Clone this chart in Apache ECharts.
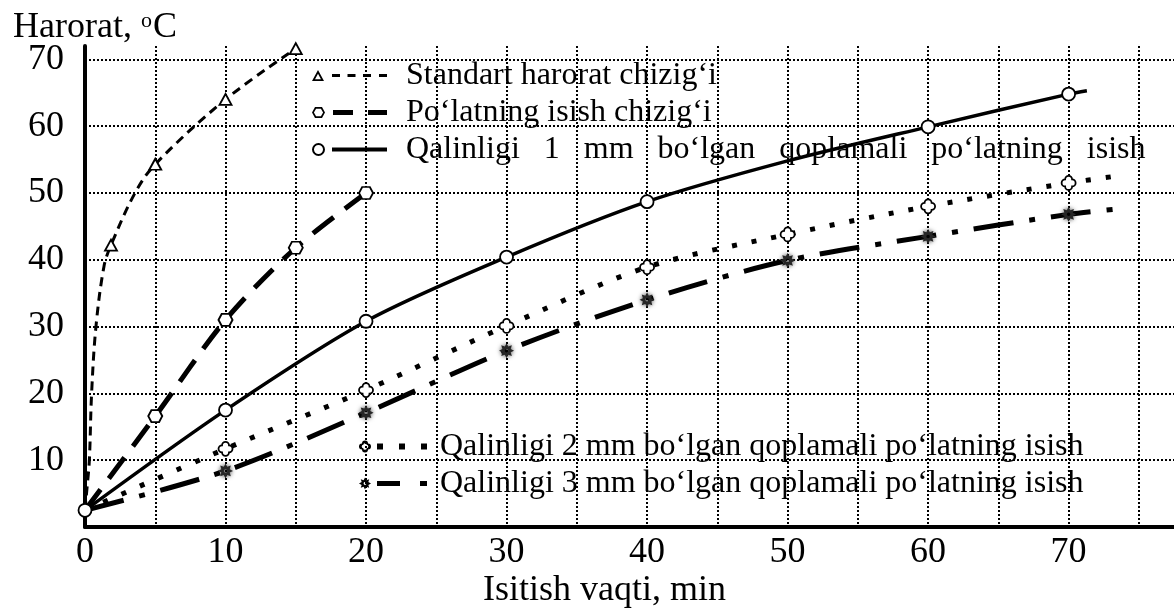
<!DOCTYPE html>
<html>
<head>
<meta charset="utf-8">
<title>Harorat</title>
<script src="https://cdn.jsdelivr.net/npm/echarts@6/dist/echarts.min.js"></script>
<style>
  html, body { margin: 0; padding: 0; background: #fff; }
  #chart { width: 1174px; height: 608px; }
</style>
</head>
<body>
<div id="chart"></div>
<script>
// Heating time (min) and temperature (°C) readings for each curve.
// Points listed in *Marked arrays carry a marker; the rest only shape the line.
const standardX = [0, 0.15, 0.31, 0.47, 0.78, 1.35, 1.85, 3.56, 5, 10, 15];
const standardY = [2.5, 6, 10, 20, 30, 39, 42.2, 50, 54.3, 64, 71.6];
const standardMarked = [1.85, 5, 10, 15];

const steelX = [0, 5, 10, 15, 20];
const steelY = [2.5, 16.6, 31, 41.8, 50];
const steelMarked = [5, 10, 15, 20];

const coat1X = [0, 10, 20, 30, 40, 50, 60, 70, 71.3];
const coat1Y = [2.5, 17.5, 30.8, 40.4, 48.7, 54.8, 59.9, 64.8, 65.3];
const coat1Marked = [0, 10, 20, 30, 40, 60, 70];

const coat2X = [0, 10, 20, 30, 40, 50, 60, 70, 73.3];
const coat2Y = [2.5, 11.7, 20.5, 30.1, 38.9, 43.8, 48, 51.5, 52.5];
const coat2Marked = [10, 20, 30, 40, 50, 60, 70];

const coat3X = [0, 10, 20, 30, 40, 50, 60, 70, 73.9];
const coat3Y = [2.5, 8.4, 17.1, 26.4, 34, 39.9, 43.5, 46.8, 47.7];
const coat3Marked = [10, 20, 30, 40, 50, 60, 70];

const seriesNames = [
  'Standart harorat chizig\u2018i',
  'Po\u2018latning isish chizig\u2018i',
  'Qalinligi 1 mm bo\u2018lgan qoplamali po\u2018latning isish',
  'Qalinligi 2 mm bo\u2018lgan qoplamali po\u2018latning isish',
  'Qalinligi 3 mm bo\u2018lgan qoplamali po\u2018latning isish'
];

const xTickStep = 5;
const yTickStep = 10;

const FONT = 'Liberation Serif';

// ---- marker shapes ----
function starPath(cx, cy, R, r, n, hole) {
  let d = '';
  for (let i = 0; i < 2 * n; i++) {
    const a = -Math.PI / 2 + i * Math.PI / n;
    const rad = i % 2 ? r : R;
    d += (i ? 'L' : 'M') + (cx + rad * Math.cos(a)).toFixed(2) + ',' + (cy + rad * Math.sin(a)).toFixed(2) + ' ';
  }
  d += 'Z';
  if (hole) {
    d += ' M' + (cx - hole) + ',' + cy + ' A' + hole + ',' + hole + ' 0 1,0 ' + (cx + hole) + ',' + cy +
         ' A' + hole + ',' + hole + ' 0 1,0 ' + (cx - hole) + ',' + cy + ' Z';
  }
  return d;
}
const HEX_SYMBOL = 'path://M0,6 L3.2,0.5 L10.8,0.5 L14,6 L10.8,11.5 L3.2,11.5 Z';
const CLOVER_SYMBOL = 'path://M3,3 A3,3 0 0,1 9,3 A3,3 0 0,1 9,9 A3,3 0 0,1 3,9 A3,3 0 0,1 3,3 Z';
const STAR_SYMBOL = 'path://' + starPath(6, 6, 6, 3.6, 8, 1.4);

// ---- legend icons: marker followed by a sample of the line pattern ----
const ICON_STANDARD = 'path://M0,12.5 L6,1.5 L12,12.5 Z M8.96,10.7 L6,5.26 L3.04,10.7 Z ' +
  'M20,5.5 H28 V8.5 H20 Z M35.5,5.5 H43.5 V8.5 H35.5 Z M51,5.5 H59 V8.5 H51 Z M67,5.5 H75 V8.5 H67 Z';
const ICON_STEEL = 'path://M0,7 L3,1.5 L10,1.5 L13,7 L10,12.5 L3,12.5 Z M1.9,7 L4.1,10.7 L8.9,10.7 L11.1,7 L8.9,3.3 L4.1,3.3 Z ' +
  'M21,4.5 H41 V9.5 H21 Z M56,4.5 H75 V9.5 H56 Z';
const ICON_COAT1 = 'path://M0,7 A6.5,6.5 0 1,1 13,7 A6.5,6.5 0 1,1 0,7 Z M2,7 A4.5,4.5 0 1,0 11,7 A4.5,4.5 0 1,0 2,7 Z ' +
  'M20,5 H75 V9 H20 Z';
const ICON_COAT2 = 'path://M3,4 A3,3 0 0,1 9,4 A3,3 0 0,1 9,10 A3,3 0 0,1 3,10 A3,3 0 0,1 3,4 Z ' +
  'M4.35,5.35 A1.65,1.65 0 0,0 4.35,8.65 A1.65,1.65 0 0,0 7.65,8.65 A1.65,1.65 0 0,0 7.65,5.35 A1.65,1.65 0 0,0 4.35,5.35 Z ' +
  'M18,4 H24 V10 H18 Z M40,4 H46 V10 H40 Z M62,4 H68 V10 H62 Z';
const ICON_COAT3 = 'path://' + starPath(6, 7, 6, 3.6, 8, 1.4) + ' M18,4.5 H41 V9.5 H18 Z M61,4.5 H68 V9.5 H61 Z';

function points(xs, ys, marked) {
  return xs.map((x, i) => marked.indexOf(x) >= 0 ? [x, ys[i]] : { value: [x, ys[i]], symbol: 'none' });
}

const hollow = { color: '#fff', borderColor: '#000', borderWidth: 1.8 };

const chart = echarts.init(document.getElementById('chart'), null, { renderer: 'canvas' });

chart.setOption({
  animation: false,
  backgroundColor: '#fff',
  textStyle: { fontFamily: FONT, color: '#000' },
  grid: { left: 85, right: 0, top: 46, bottom: 81, containLabel: false, outerBoundsMode: 'none' },
  xAxis: {
    type: 'value',
    min: 0,
    max: 77.5,
    interval: xTickStep,
    name: 'Isitish vaqti, min',
    nameLocation: 'middle',
    nameGap: 46,
    nameMoveOverlap: false,
    nameTextStyle: { fontFamily: FONT, fontSize: 36, color: '#000', padding: [0, 50, 0, 0] },
    axisLine: { show: true, onZero: false, lineStyle: { color: '#000', width: 4 } },
    axisTick: { show: false },
    axisLabel: {
      margin: 8,
      fontFamily: FONT, fontSize: 36, color: '#000',
      formatter: v => (v % 10 === 0 ? String(v) : '')
    },
    splitLine: {
      show: true, showMinLine: false, showMaxLine: false,
      lineStyle: { color: '#000', width: 2, type: [2, 2] }
    }
  },
  yAxis: {
    type: 'value',
    min: 0,
    max: 72,
    interval: yTickStep,
    name: 'Harorat, {sup|o}C',
    nameLocation: 'end',
    nameGap: 0,
    nameMoveOverlap: false,
    nameTextStyle: {
      fontFamily: FONT, fontSize: 36, color: '#000',
      align: 'center', verticalAlign: 'bottom', padding: [0, 0, 0, 20],
      rich: { sup: { fontFamily: FONT, fontSize: 22, color: '#000', verticalAlign: 'top', padding: [0, 1, 12, 0] } }
    },
    axisLine: { show: true, onZero: false, lineStyle: { color: '#000', width: 4 } },
    axisTick: { show: false },
    axisLabel: {
      margin: 21,
      fontFamily: FONT, fontSize: 36, color: '#000',
      formatter: v => (v > 0 && v % 10 === 0 ? String(v) : '')
    },
    splitLine: {
      show: true, showMinLine: false, showMaxLine: false,
      lineStyle: { color: '#000', width: 2, type: [2, 2] }
    }
  },
  legend: [
    {
      orient: 'vertical',
      left: 312,
      top: 57,
      padding: 0,
      itemGap: 0,
      itemWidth: 75,
      itemHeight: 14,
      selectedMode: false,
      itemStyle: { color: '#000', borderWidth: 0 },
      textStyle: { fontFamily: FONT, fontSize: 32, color: '#000', lineHeight: 37, padding: [0, 0, 0, 14] },
      formatter: name => (name === seriesNames[2] ? name.split(' ').join('   ') : name),
      data: [
        { name: seriesNames[0], icon: ICON_STANDARD },
        { name: seriesNames[1], icon: ICON_STEEL },
        { name: seriesNames[2], icon: ICON_COAT1 }
      ]
    },
    {
      orient: 'vertical',
      left: 359,
      top: 428,
      padding: 0,
      itemGap: 0,
      itemWidth: 68,
      itemHeight: 14,
      selectedMode: false,
      itemStyle: { color: '#000', borderWidth: 0 },
      textStyle: { fontFamily: FONT, fontSize: 32, color: '#000', lineHeight: 37, padding: [0, 0, 0, 8] },
      data: [
        { name: seriesNames[3], icon: ICON_COAT2 },
        { name: seriesNames[4], icon: ICON_COAT3 }
      ]
    }
  ],
  series: [
    {
      name: seriesNames[0],
      type: 'line',
      data: points(standardX, standardY, standardMarked),
      smooth: 0.35,
      showAllSymbol: true,
      symbol: 'triangle',
      symbolSize: [12, 11],
      itemStyle: hollow,
      lineStyle: { color: '#000', width: 3, type: [9, 6], cap: 'butt' },
      z: 3
    },
    {
      name: seriesNames[1],
      type: 'line',
      data: points(steelX, steelY, steelMarked),
      smooth: 0.3,
      showAllSymbol: true,
      symbol: HEX_SYMBOL,
      symbolSize: [14, 12],
      itemStyle: hollow,
      lineStyle: { color: '#000', width: 5, type: [26, 14], cap: 'butt' },
      z: 3
    },
    {
      name: seriesNames[2],
      type: 'line',
      data: points(coat1X, coat1Y, coat1Marked),
      smooth: 0.3,
      showAllSymbol: true,
      symbol: 'circle',
      symbolSize: 13,
      itemStyle: hollow,
      lineStyle: { color: '#000', width: 3.5 },
      z: 4
    },
    {
      name: seriesNames[3],
      type: 'line',
      data: points(coat2X, coat2Y, coat2Marked),
      smooth: 0.3,
      showAllSymbol: true,
      symbol: CLOVER_SYMBOL,
      symbolSize: 14,
      itemStyle: hollow,
      lineStyle: { color: '#000', width: 5, type: [5, 15], cap: 'butt' },
      z: 3
    },
    {
      name: seriesNames[4],
      type: 'line',
      data: points(coat3X, coat3Y, coat3Marked),
      smooth: 0.3,
      showAllSymbol: true,
      symbol: STAR_SYMBOL,
      symbolSize: 15,
      itemStyle: { color: '#262626', borderWidth: 0, shadowBlur: 4, shadowColor: 'rgba(0,0,0,0.7)' },
      lineStyle: { color: '#000', width: 5, type: [40, 16, 6, 16], cap: 'butt' },
      z: 3
    }
  ]
});
</script>
</body>
</html>
